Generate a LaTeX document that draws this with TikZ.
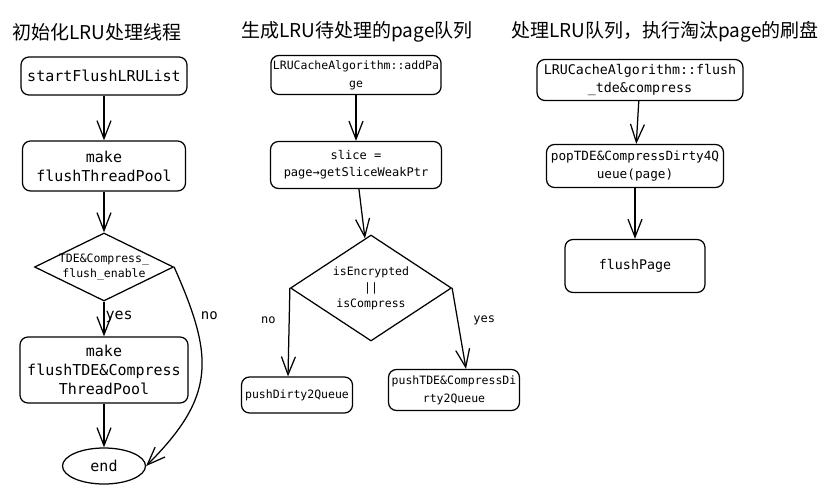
\documentclass[tikz,border=0pt]{standalone}
\usepackage{fontspec}
\setmonofont{DejaVu Sans Mono}
\newfontfamily\cjk{Noto Sans CJK SC}
\usetikzlibrary{arrows.meta,shapes.geometric,positioning}

\tikzset{
  box/.style={draw, rounded corners=8pt, align=center, inner sep=2pt},
  cond/.style={draw, diamond, align=center, inner xsep=-30pt, inner ysep=-15pt},
  stop/.style={draw, ellipse, inner sep=0pt},
  title/.style={font=\cjk\fontsize{19}{22}\selectfont},
  colA/.style={font=\ttfamily\fontsize{15}{19}\selectfont},
  colB/.style={font=\ttfamily\fontsize{11.5}{18}\selectfont},
  colC/.style={font=\ttfamily\fontsize{13.3}{18}\selectfont},
  lab/.style={font=\ttfamily\fontsize{12}{14}\selectfont, inner sep=1pt}
}

\begin{document}
\begin{tikzpicture}[x=1pt,y=-1pt,>={Straight Barb[length=18pt,width=14pt]},line width=1.25pt]
    \useasboundingbox (0,0) rectangle (837,494);
    % titles
    \node[title] (t1) at (97,32) {初始化LRU处理线程};
    \node[title] (t2) at (357,32) {生成LRU待处理的page队列};
    \node[title] (t3) at (665,32) {处理LRU队列，执行淘汰page的刷盘};

    % first column
    \node[box,colA,minimum width=166pt,minimum height=38pt] (start) at (104,76) {startFlushLRUList};
    \node[box,colA,minimum width=163pt,minimum height=50pt] (pool) [node distance=90pt,below of=start] {make\\flushThreadPool};
    \node[cond,colA,font=\ttfamily\fontsize{11.5}{15}\selectfont,minimum width=139pt,minimum height=68pt] (enable) [node distance=101pt,below of=pool] {TDE\&Compress\_\\flush\_enable};
    \node[box,colA,minimum width=168pt,minimum height=66pt] (tdepool) [node distance=103pt,below of=enable] {make\\flushTDE\&Compress\\ThreadPool};
    \node[stop,colA,minimum width=83pt,minimum height=36pt] (end) [node distance=96pt,below of=tdepool] {end};
    \draw[->] (start) to (pool);
    \draw[->] (pool) to (enable);
    \draw[->] (enable) to node[lab,right,pos=0.45,font=\ttfamily\fontsize{15}{17}\selectfont]{yes} (tdepool);
    \draw[->] (tdepool) to (end);
    \draw[->] (enable.east) .. controls +(40,90) and +(70,-70) .. node[lab,pos=0.2,right=6pt,font=\ttfamily\fontsize{14}{17}\selectfont]{no} (end.east);

    % second column
    \node[box,colB,minimum width=170pt,minimum height=39pt] (add) at (356,75) {LRUCacheAlgorithm::addPa\\ge};
    \node[box,colB,font=\ttfamily\fontsize{12}{17}\selectfont,minimum width=171pt,minimum height=47pt] (slice) [node distance=90pt,below of=add] {slice =\\page→getSliceWeakPtr};
    \node[cond,colB,font=\ttfamily\fontsize{11.5}{16}\selectfont,minimum width=161pt,minimum height=106pt] (enc) [node distance=123pt,below of=slice,xshift=15pt] {isEncrypted\\||\\isCompress};
    \node[box,colB,minimum width=111pt,minimum height=36pt] (dirty) [node distance=107pt,below of=enc,xshift=-74pt] {pushDirty2Queue};
    \node[box,colB,minimum width=131pt,minimum height=41pt] (tdedirty) [node distance=102pt,below of=enc,xshift=83pt] {pushTDE\&CompressDi\\rty2Queue};
    \draw[->] (add) to (slice);
    \draw[->] (slice) to (enc);
    \draw[->] (enc.west) to node[lab,pos=0.36,left=12pt]{no} ([xshift=-9pt]dirty.north);
    \draw[->] (enc.east) to node[lab,pos=0.4,right=14pt]{yes} ([xshift=12pt]tdedirty.north);

    % third column
    \node[box,colC,minimum width=206pt,minimum height=41pt] (flush) at (640,80) {LRUCacheAlgorithm::flush\\\_tde\&compress};
    \node[box,colC,font=\ttfamily\fontsize{12.7}{18}\selectfont,minimum width=177pt,minimum height=43pt] (pop) [node distance=86pt,below of=flush,xshift=-5pt] {popTDE\&CompressDirty4Q\\ueue(page)};
    \node[box,colC,minimum width=140pt,minimum height=53pt] (fp) [node distance=100pt,below of=pop] {flushPage};
    \draw[->] (flush) to (pop);
    \draw[->] (pop) to (fp);
\end{tikzpicture}
\end{document}
